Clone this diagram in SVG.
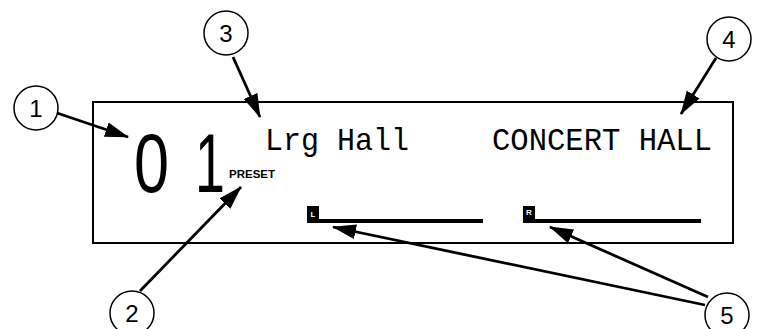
<svg xmlns="http://www.w3.org/2000/svg" width="759" height="329" viewBox="0 0 759 329">
<style>
.callout circle{fill:#fff;stroke:#000;stroke-width:1.5}
.callout text{font-family:"Liberation Sans",Arial,sans-serif;font-size:24px;fill:#000;text-anchor:middle}
.lcd{font-family:"Liberation Mono","DejaVu Sans Mono",monospace;font-size:32px;fill:#000}
.seg{font-family:"Liberation Sans",Arial,sans-serif;font-size:84px;fill:#000}
.conn line{stroke:#000;stroke-width:2.8;marker-end:url(#ah)}
.bar{fill:#000}
.tag{font-family:"Liberation Sans",Arial,sans-serif;font-size:8px;font-weight:bold;fill:#fff;text-anchor:middle}
</style>
<defs>
<marker id="ah" markerUnits="userSpaceOnUse" markerWidth="24" markerHeight="16" refX="23" refY="8" orient="auto">
<path d="M0,0.5 L24,8 L0,15.5 z" fill="#000"/>
</marker>
</defs>
<rect width="759" height="329" fill="#fff"/>
<g id="display">
<rect x="93" y="102" width="640" height="141" fill="none" stroke="#000" stroke-width="2"/>
<text class="seg" transform="translate(134,192) scale(0.75,1)" x="0" y="0">0</text>
<text class="seg" transform="translate(195,192) scale(0.64,1)" x="0" y="0">1</text>
<text x="229" y="178" font-family="Liberation Sans,Arial,sans-serif" font-size="11.5" font-weight="bold">PRESET</text>
<text class="lcd" x="265" y="150" textLength="144" lengthAdjust="spacingAndGlyphs">Lrg Hall</text>
<text class="lcd" x="492" y="150" textLength="220" lengthAdjust="spacingAndGlyphs">CONCERT HALL</text>
<rect class="bar" x="307" y="206" width="12" height="17"/>
<text class="tag" x="313" y="217">L</text>
<rect class="bar" x="319" y="219" width="164" height="4"/>
<rect class="bar" x="523" y="206" width="12" height="17"/>
<text class="tag" x="529" y="215">R</text>
<rect class="bar" x="535" y="219" width="166" height="4"/>
</g>
<g id="connectors" class="conn">
<line x1="57" y1="113" x2="128" y2="137"/>
<line x1="233" y1="57" x2="260" y2="117"/>
<line x1="716" y1="58" x2="681" y2="114"/>
<line x1="140" y1="291" x2="241" y2="187"/>
<line x1="705" y1="305" x2="333" y2="227"/>
<line x1="708" y1="297" x2="550" y2="227"/>
</g>
<g id="c1" class="callout"><circle cx="36" cy="108" r="22"/><text x="36" y="117">1</text></g>
<g id="c2" class="callout"><circle cx="132" cy="313" r="22"/><text x="132" y="322">2</text></g>
<g id="c3" class="callout"><circle cx="226" cy="33" r="22"/><text x="226" y="42">3</text></g>
<g id="c4" class="callout"><circle cx="729" cy="39" r="22"/><text x="729" y="48">4</text></g>
<g id="c5" class="callout"><circle cx="727" cy="315" r="22"/><text x="727" y="324">5</text></g>
</svg>
